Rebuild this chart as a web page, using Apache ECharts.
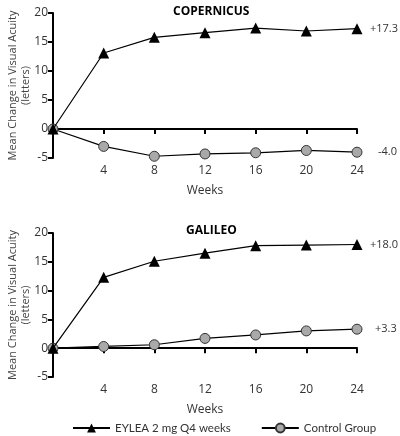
<!DOCTYPE html>
<html><head><meta charset="utf-8">
<script src="https://cdn.jsdelivr.net/npm/echarts@6/dist/echarts.min.js"></script>
<style>html,body{margin:0;padding:0;background:#fff}#c{width:400px;height:436px}</style>
</head><body><div id="c"></div>
<script>
var weeks = [0, 4, 8, 12, 16, 20, 24];
var xTicks = [4, 8, 12, 16, 20, 24];
var yTicks = [-5, 0, 5, 10, 15, 20];
var copEylea = [0, 13.1, 15.8, 16.6, 17.4, 16.9, 17.3];
var copControl = [0, -3.0, -4.7, -4.3, -4.1, -3.7, -4.0];
var galEylea = [0, 12.3, 15.1, 16.5, 17.8, 17.9, 18.0];
var galControl = [0, 0.3, 0.6, 1.7, 2.3, 3.0, 3.3];
var titles = ['COPERNICUS', 'GALILEO'];
var seriesNames = ['EYLEA 2 mg Q4 weeks', 'Control Group'];

var FONT = 'Open Sans';
var TXT = '#333';
function pairs(vals) { return weeks.map(function (w, i) { return [w, vals[i]]; }); }
function fmt(v) { return (v > 0 ? '+' : '') + v.toFixed(1); }

var grids = [
  { left: 53, right: 43, top: 13, height: 145, outerBoundsMode: 'none', containLabel: false },
  { left: 53, right: 43, top: 233, height: 144, outerBoundsMode: 'none', containLabel: false }
];
var xAxes = [], yAxes = [];
[0, 1].forEach(function (g) {
  xAxes.push({
    type: 'value', gridIndex: g, min: 0, max: 24, interval: 4,
    axisLine: { show: true, onZero: true, lineStyle: { color: '#000', width: 2 } },
    axisTick: { show: true, length: 5, lineStyle: { color: '#000', width: 2 } },
    axisLabel: { show: false }, splitLine: { show: false }
  });
  xAxes.push({
    type: 'value', gridIndex: g, min: 0, max: 24, interval: 4, position: 'bottom',
    axisLine: { show: false, onZero: false }, axisTick: { show: false },
    axisLabel: { show: true, margin: 7, color: TXT, fontFamily: FONT, fontSize: 12,
      formatter: function (v) { return xTicks.indexOf(v) >= 0 ? String(v) : ''; } },
    splitLine: { show: false },
    name: 'Weeks', nameLocation: 'middle', nameGap: 27, nameMoveOverlap: false,
    nameTextStyle: { color: TXT, fontFamily: FONT, fontSize: 12 }
  });
  yAxes.push({
    type: 'value', gridIndex: g, min: yTicks[0], max: yTicks[yTicks.length - 1], interval: 5,
    axisLine: { show: true, lineStyle: { color: '#000', width: 2 } },
    axisTick: { show: true, length: 5, lineStyle: { color: '#000', width: 2 } },
    axisLabel: { color: TXT, fontFamily: FONT, fontSize: 12, margin: 5 },
    splitLine: { show: false },
    name: 'Mean Change in Visual Acuity\n(letters)', nameLocation: 'middle', nameRotate: 90, nameGap: 21,
    nameMoveOverlap: false,
    nameTextStyle: { color: '#444', fontFamily: FONT, fontSize: 11, lineHeight: 13 }
  });
});

function mk(name, g, vals, isEylea, dist) {
  return {
    name: name, type: 'line', xAxisIndex: g * 2, yAxisIndex: g, data: pairs(vals),
    z: isEylea ? 4 : 3,
    symbol: isEylea ? 'triangle' : 'circle', symbolSize: isEylea ? 11 : 10,
    lineStyle: { color: '#000', width: 1.2 },
    itemStyle: isEylea ? { color: '#000' } : { color: '#a9a9a9', borderColor: '#333', borderWidth: 1 },
    endLabel: { show: true, distance: dist, color: TXT, fontFamily: FONT, fontSize: 11,
      formatter: function (p) { return fmt(p.value[1]); } },
    animation: false
  };
}

var chart = echarts.init(document.getElementById('c'));
chart.setOption({
  animation: false,
  title: [
    { text: titles[0], left: 168, top: 1, textStyle: { fontFamily: FONT, fontSize: 12, fontWeight: 'bold', color: '#000' } },
    { text: titles[1], left: 181, top: 220, textStyle: { fontFamily: FONT, fontSize: 12, fontWeight: 'bold', color: '#000' } }
  ],
  grid: grids, xAxis: xAxes, yAxis: yAxes,
  legend: {
    data: seriesNames, left: 72, top: 422, padding: 0, itemWidth: 37, itemHeight: 11, itemGap: 30,
    textStyle: { color: TXT, fontFamily: 'Lato', fontSize: 11.5 }
  },
  series: [
    mk(seriesNames[0], 0, copEylea, true, 13),
    mk(seriesNames[1], 0, copControl, false, 21),
    mk(seriesNames[0], 1, galEylea, true, 13),
    mk(seriesNames[1], 1, galControl, false, 18)
  ]
});
</script></body></html>
